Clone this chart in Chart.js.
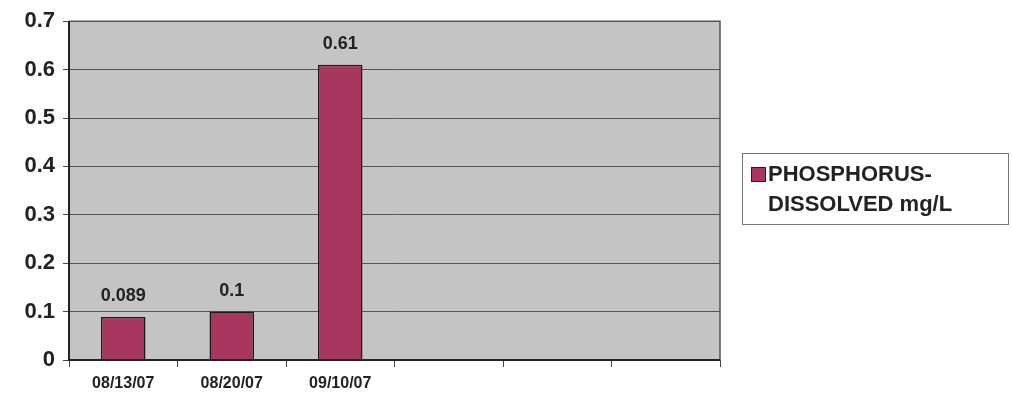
<!DOCTYPE html>
<html>
<head>
  <meta charset="UTF-8" />
  <title>Phosphorus Dissolved</title>
  <style>
    body { margin: 0; background: #fff; }
    #wrap { width: 1012px; height: 413px; }
  </style>
</head>
<body>
  <div id="wrap"><canvas id="phosChart" width="1012" height="413"></canvas></div>
  <script src="https://cdn.jsdelivr.net/npm/chart.js"></script>
  <script>
    const sampleDates = ['08/13/07', '08/20/07', '09/10/07', '', '', ''];
    const phosValues = [0.089, 0.1, 0.61, null, null, null];
    const valueLabels = ['0.089', '0.1', '0.61'];
    const seriesName = ['PHOSPHORUS-', 'DISSOLVED mg/L'];

    const barColor = '#a8375f';
    const font = 'Arial, "Liberation Sans", sans-serif';

    // gray plot background with a frame around it
    const plotFrame = {
      id: 'plotFrame',
      beforeDraw(chart) {
        const { ctx, chartArea: a } = chart;
        ctx.save();
        ctx.fillStyle = '#c4c4c4';
        ctx.fillRect(a.left, a.top, a.right - a.left, a.bottom - a.top);
        ctx.restore();
      },
      afterDatasetsDraw(chart) {
        const { ctx, chartArea: a } = chart;
        ctx.save();
        ctx.strokeStyle = '#555';
        ctx.lineWidth = 1.5;
        ctx.beginPath();
        ctx.moveTo(a.left, a.top);
        ctx.lineTo(a.right, a.top);
        ctx.lineTo(a.right, a.bottom);
        ctx.stroke();
        ctx.strokeStyle = '#222';
        ctx.lineWidth = 2;
        ctx.beginPath();
        ctx.moveTo(a.left, a.top);
        ctx.lineTo(a.left, a.bottom);
        ctx.lineTo(a.right, a.bottom);
        ctx.stroke();
        ctx.restore();
      }
    };

    // value above each bar
    const barValues = {
      id: 'barValues',
      afterDatasetsDraw(chart) {
        const { ctx } = chart;
        const meta = chart.getDatasetMeta(0);
        ctx.save();
        ctx.font = 'bold 18px ' + font;
        ctx.fillStyle = '#222';
        ctx.textAlign = 'center';
        ctx.textBaseline = 'bottom';
        meta.data.forEach((bar, i) => {
          if (phosValues[i] == null) return;
          ctx.fillText(valueLabels[i], bar.x, bar.y - 12);
        });
        ctx.restore();
      }
    };

    // boxed legend on the right, label split over two lines
    const sideLegend = {
      id: 'sideLegend',
      afterDraw(chart) {
        const { ctx } = chart;
        const x = 742, y = 153, w = 266, h = 71;
        ctx.save();
        ctx.fillStyle = '#fff';
        ctx.fillRect(x, y, w, h);
        ctx.strokeStyle = '#777';
        ctx.lineWidth = 1;
        ctx.strokeRect(x + 0.5, y + 0.5, w, h);
        ctx.fillStyle = barColor;
        ctx.fillRect(751, 167, 14, 14);
        ctx.strokeStyle = '#222';
        ctx.strokeRect(751.5, 167.5, 14, 14);
        ctx.fillStyle = '#222';
        ctx.font = 'bold 22px ' + font;
        ctx.textBaseline = 'middle';
        ctx.textAlign = 'left';
        ctx.fillText(seriesName[0], 768, 175);
        ctx.fillText(seriesName[1], 768, 205);
        ctx.restore();
      }
    };

    new Chart(document.getElementById('phosChart'), {
      type: 'bar',
      data: {
        labels: sampleDates,
        datasets: [{
          label: seriesName.join(' '),
          data: phosValues,
          backgroundColor: barColor,
          borderColor: '#1a1a1a',
          borderWidth: 1.5,
          borderSkipped: 'bottom',
          categoryPercentage: 1,
          barPercentage: 0.41
        }]
      },
      options: {
        responsive: false,
        animation: false,
        layout: { padding: { top: 12, right: 292, bottom: 0, left: 0 } },
        plugins: {
          legend: { display: false },
          tooltip: { enabled: false }
        },
        scales: {
          x: {
            grid: {
              offset: true,
              drawOnChartArea: false,
              tickLength: 7,
              tickColor: '#444',
              tickWidth: 1
            },
            border: { display: false },
            ticks: {
              color: '#222',
              font: { family: font, size: 16, weight: 'bold' },
              padding: 7,
              maxRotation: 0
            },
            afterFit(scale) { scale.height = 53; }
          },
          y: {
            min: 0,
            max: 0.7,
            grid: {
              color: '#555',
              lineWidth: 1,
              tickLength: 6,
              tickColor: '#444'
            },
            border: { display: false },
            ticks: {
              stepSize: 0.1,
              color: '#222',
              padding: 8,
              font: { family: font, size: 22, weight: 'bold' },
              callback: v => Math.round(v * 10) / 10
            },
            afterFit(scale) { scale.width = 69; }
          }
        }
      },
      plugins: [plotFrame, barValues, sideLegend]
    });
  </script>
</body>
</html>
